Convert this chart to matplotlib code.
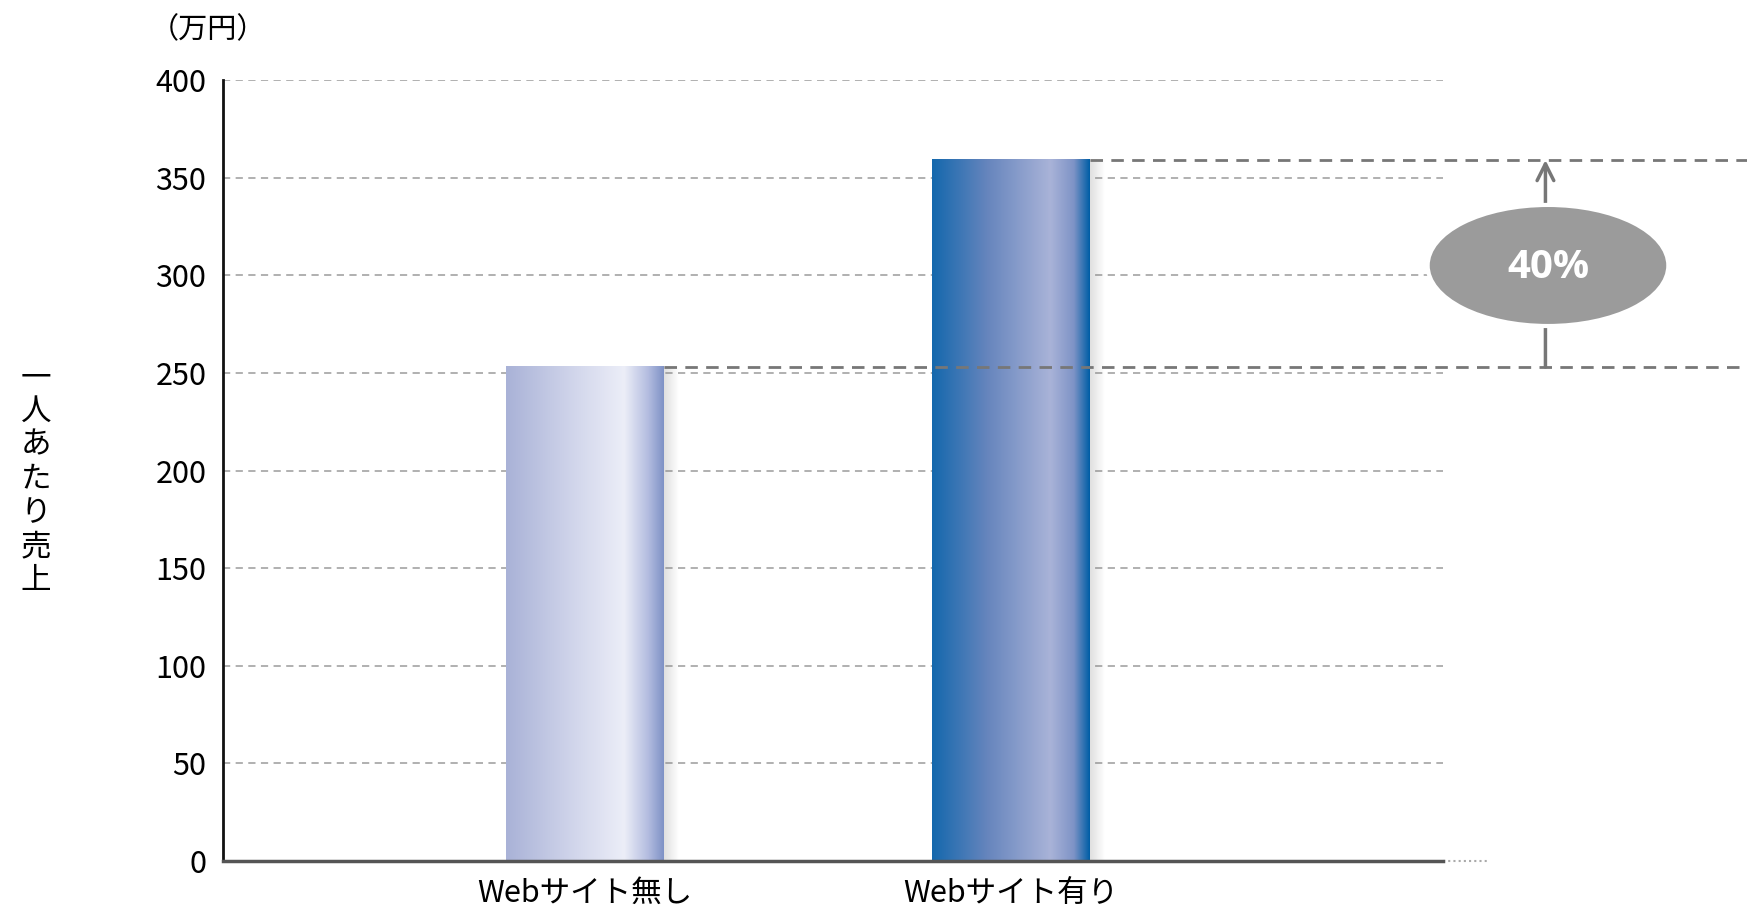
import numpy as np
import matplotlib
matplotlib.use('Agg')
import matplotlib.pyplot as plt
from matplotlib.colors import LinearSegmentedColormap
from matplotlib.patches import Ellipse

plt.rcParams['font.family'] = ['Noto Sans CJK JP', 'DejaVu Sans']

# data
categories = ['Webサイト無し', 'Webサイト有り']
values = [253, 359]
growth_label = '40%'
y_ticks = [0, 50, 100, 150, 200, 250, 300, 350, 400]
unit_label = '（万円）'
y_label = '一人あたり売上'

# gradient colours of each bar (left -> right)
bar_colors = [
    [(0.0, '#a9b2d7'), (0.45, '#d3d7ec'), (0.75, '#eceef8'), (0.9, '#b4bde0'), (1.0, '#7f92c6')],
    [(0.0, '#1468ad'), (0.35, '#6685bd'), (0.75, '#a9b3d8'), (0.9, '#7e93c6'), (1.0, '#005ea6')],
]

fig = plt.figure(figsize=(17.47, 9.18), dpi=100)
ax = fig.add_axes([0.1277, 0.062, 0.6984, 0.8509])

bar_w = 0.37

grad = np.linspace(0, 1, 256).reshape(1, -1)
for i, (v, stops) in enumerate(zip(values, bar_colors)):
    cmap = LinearSegmentedColormap.from_list('bar%d' % i, stops)
    x0, x1 = i - bar_w / 2, i + bar_w / 2
    # soft shadow on the right
    sh = np.zeros((1, 64, 4))
    sh[..., :3] = 0.5
    sh[..., 3] = np.linspace(0.25, 0, 64)
    ax.imshow(sh, extent=[x1, x1 + 0.035, 0, v], aspect='auto', zorder=2)
    ax.imshow(grad, extent=[x0, x1, 0, v], cmap=cmap, aspect='auto', zorder=3)

ax.set_xlim(-0.85, 2.014)
ax.set_ylim(0, 400)

# grid
for t in y_ticks[1:]:
    ax.axhline(t, color='#aaaaaa', lw=1.3, ls=(0, (4, 3)), zorder=1)

ax.set_yticks(y_ticks)
ax.set_xticks([0, 1])
ax.set_xticklabels(categories, fontsize=22)
ax.tick_params(axis='y', length=0, pad=12, labelsize=22)
ax.tick_params(axis='x', length=0, pad=12)

for s in ['top', 'right']:
    ax.spines[s].set_visible(False)
ax.spines['left'].set_color('#111111')
ax.spines['left'].set_linewidth(2)
ax.spines['bottom'].set_color('#555555')
ax.spines['bottom'].set_linewidth(2.5)
ax.spines['left'].set_zorder(6)
ax.spines['bottom'].set_zorder(6)
ax.plot([2.014, 2.117], [0, 0], color='#aaaaaa', lw=1.5, ls=(0, (1, 1.5)),
        clip_on=False)

# reference lines at bar tops
ax.plot([bar_w / 2, 2.728], [values[0], values[0]], color='#777777', lw=2,
        ls=(0, (4.5, 3)), clip_on=False, zorder=5)
ax.plot([1 + bar_w / 2, 2.728], [values[1], values[1]], color='#777777', lw=2,
        ls=(0, (4.5, 3)), clip_on=False, zorder=5)

# arrow + ellipse
ax.annotate('', xy=(2.254, values[1]), xytext=(2.254, values[0]),
            arrowprops=dict(arrowstyle='->', color='#777777', lw=2.5,
                            mutation_scale=30, shrinkA=0, shrinkB=0),
            annotation_clip=False, zorder=6)
ell = Ellipse((2.26, 305), 0.565, 62, facecolor='#9b9b9b', edgecolor='white',
              lw=3, clip_on=False, zorder=7)
ax.add_patch(ell)
ax.text(2.26, 304, growth_label, color='white', fontsize=29, fontweight='bold',
        family=['Open Sans', 'DejaVu Sans'], ha='center', va='center', zorder=8)

fig.text(0.086, 0.967, unit_label, fontsize=21, ha='left', va='center')
fig.text(0.0206, 0.478, '\n'.join(y_label), fontsize=22, ha='center',
         va='center', linespacing=1.12)

fig.savefig('out.png', dpi=100)
